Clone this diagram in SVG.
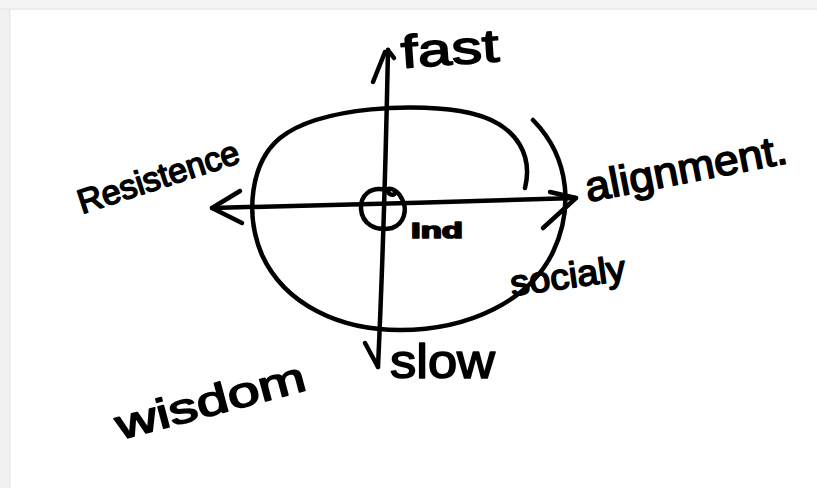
<svg xmlns="http://www.w3.org/2000/svg" width="817" height="488" viewBox="0 0 817 488">
<style>
.ink{fill:none;stroke:#000;stroke-width:4.5;stroke-linecap:round;stroke-linejoin:round}
.hand{font-family:"Liberation Sans","DejaVu Sans",sans-serif;fill:#000;stroke:#000;stroke-width:1.6;stroke-linejoin:round}
</style>
<rect x="0" y="0" width="817" height="488" fill="#ffffff"/>
<rect x="0" y="0" width="817" height="9" fill="#f4f4f4"/>
<rect x="0" y="8" width="817" height="2" fill="#ebebeb"/>
<rect x="0" y="10" width="9" height="478" fill="#f1f1f1"/>
<rect x="9" y="10" width="1.5" height="478" fill="#e8e8e8"/>
<g id="connectors">
<path class="ink" d="M378,367 C382,280 386,150 388,50"/>
<path class="ink" d="M373,82 L385,52 M388,50 L394,58"/>
<path class="ink" d="M365,343 L378,367"/>
<path class="ink" d="M212,208 C320,205 460,202 576,198"/>
<path class="ink" d="M240,191 L212,208 L242,223"/>
<path class="ink" d="M550,192 L576,198 L543,228"/>
</g>
<g id="ellipse">
<path class="ink" d="M525,188 C532,160 522,125 470,113 C420,102 320,106 280,138 C250,163 245,215 262,255 C285,305 340,330 400,330 C470,330 530,300 553,252 C572,212 572,160 533,120"/>
</g>
<g id="center">
<path class="ink" d="M386,190 C370,186 360,196 361,209 C362,224 376,232 392,228 C404,224 408,210 402,199 C398,191 392,188 388,189 C387,194 393,197 395,193"/>
<text class="hand" x="411" y="238" font-size="22" font-weight="bold" textLength="52" lengthAdjust="spacingAndGlyphs">Ind</text>
</g>
<g id="fast"><text class="hand" x="402" y="68" font-size="46" transform="rotate(-4 402 68)" textLength="98" lengthAdjust="spacingAndGlyphs">fast</text></g>
<g id="resistence"><text class="hand" x="82" y="214" font-size="34" transform="rotate(-18 82 214)" textLength="168" lengthAdjust="spacingAndGlyphs">Resistence</text></g>
<g id="alignment"><text class="hand" x="588" y="202" font-size="42" transform="rotate(-11 588 202)" textLength="205" lengthAdjust="spacingAndGlyphs">alignment.</text></g>
<g id="socialy"><text class="hand" x="512" y="296" font-size="36" transform="rotate(-8 512 296)" textLength="116" lengthAdjust="spacingAndGlyphs">socialy</text></g>
<g id="slow"><text class="hand" x="390" y="378" font-size="48" textLength="105" lengthAdjust="spacingAndGlyphs">slow</text></g>
<g id="wisdom"><text class="hand" x="120" y="440" font-size="42" transform="rotate(-15 120 440)" textLength="195" lengthAdjust="spacingAndGlyphs">wisdom</text></g>
</svg>
